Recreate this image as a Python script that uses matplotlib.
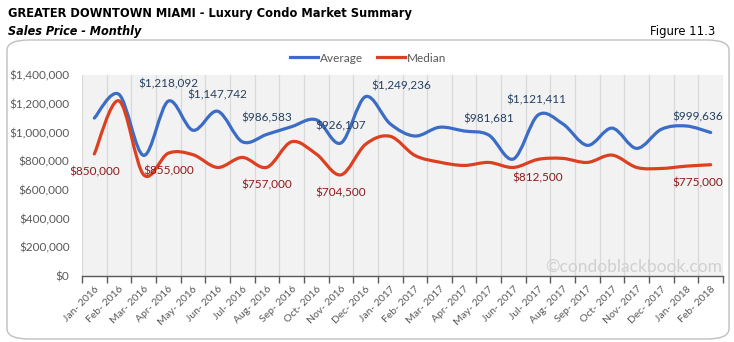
import matplotlib
matplotlib.use('Agg')
import numpy as np
import matplotlib.pyplot as plt
from matplotlib.path import Path
from matplotlib.patches import PathPatch, FancyBboxPatch
from matplotlib.lines import Line2D
from matplotlib import font_manager

# ---------------- data ----------------
months = ['Jan- 2016', 'Feb- 2016', 'Mar- 2016', 'Apr- 2016', 'May- 2016', 'Jun- 2016',
          'Jul- 2016', 'Aug- 2016', 'Sep- 2016', 'Oct- 2016', 'Nov- 2016', 'Dec- 2016',
          'Jan- 2017', 'Feb- 2017', 'Mar- 2017', 'Apr- 2017', 'May- 2017', 'Jun- 2017',
          'Jul- 2017', 'Aug- 2017', 'Sep- 2017', 'Oct- 2017', 'Nov- 2017', 'Dec- 2017',
          'Jan- 2018', 'Feb- 2018']
average = [1100000, 1265000, 840000, 1218092, 1015000, 1147742, 935000, 986583,
           1040000, 1088000, 926107, 1249236, 1060000, 975000, 1036000, 1010000,
           981681, 815000, 1121411, 1060000, 910000, 1030000, 889000, 1022000,
           1045000, 999636]
median = [850000, 1220000, 705000, 855000, 845000, 756000, 826000, 757000,
          935000, 850000, 704500, 917000, 973000, 840000, 793000, 770000,
          791000, 756000, 812500, 819000, 791000, 842000, 756000, 749000,
          765000, 775000]
y_ticks = [0, 200000, 400000, 600000, 800000, 1000000, 1200000, 1400000]

# labelled points: (index, dx px, dy px, ha)
avg_labels = [(3, 0, 17, 'center'), (5, 0, 16, 'center'), (7, 0, 16, 'center'),
              (10, 0, 17, 'center'), (11, 6, 11, 'left'), (16, 0, 16, 'center'),
              (18, -2, 15, 'center'), (25, 12, 16, 'right')]
med_labels = [(0, 0, -18, 'center'), (3, 0, -18, 'center'), (7, 0, -18, 'center'),
              (10, 0, -18, 'center'), (18, 0, -19, 'center'), (25, 12, -18, 'right')]

# ---------------- fonts ----------------
fl = font_manager.fontManager.ttflist
names = {f.name for f in fl}
if 'Liberation Sans Narrow' in names:
    narrow, narrow_stretch = 'Liberation Sans Narrow', 'normal'
elif any(f.name == 'DejaVu Sans' and f.stretch == 'condensed' for f in fl):
    narrow, narrow_stretch = 'DejaVu Sans', 'condensed'
else:
    narrow, narrow_stretch = 'Liberation Sans', 'normal'
body = 'Lato' if 'Lato' in names else 'DejaVu Sans'
plt.rcParams['font.family'] = [body, 'DejaVu Sans']

BLUE = '#3B6CC6'
RED = '#DD4020'
GRAY = '#595959'

fig = plt.figure(figsize=(7.34, 3.42), dpi=100)
W, H = 734, 342


def fx(px):
    return px / W


def fy(py):
    return 1 - py / H


# outer rounded frame
frame = FancyBboxPatch((fx(7), fy(339)), fx(722), (339 - 40) / H,
                       boxstyle='round,pad=0,rounding_size=0.03',
                       transform=fig.transFigure, facecolor='white',
                       edgecolor='#BFBFBF', linewidth=1.0, zorder=-10)
fig.patches.append(frame)

ax = fig.add_axes([fx(82), fy(276), fx(641), (276 - 75) / H])
ax.set_facecolor('#F2F2F2')
ax.set_zorder(1)

n = len(months)
xs = np.arange(n)


def smooth_patch(vals, color):
    pts = np.column_stack([xs, np.asarray(vals, dtype=float)])
    verts = [tuple(pts[0])]
    codes = [Path.MOVETO]
    for i in range(n - 1):
        p0 = pts[i - 1] if i > 0 else pts[i]
        p1 = pts[i]
        p2 = pts[i + 1]
        p3 = pts[i + 2] if i + 2 < n else pts[i + 1]
        c1 = p1 + (p2 - p0) / 6.0
        c2 = p2 - (p3 - p1) / 6.0
        verts += [tuple(c1), tuple(c2), tuple(p2)]
        codes += [Path.CURVE4] * 3
    patch = PathPatch(Path(verts, codes), facecolor='none', edgecolor=color,
                      linewidth=2.3, capstyle='round', joinstyle='round', zorder=3)
    ax.add_patch(patch)


smooth_patch(average, BLUE)
smooth_patch(median, RED)

ax.set_xlim(-0.5, n - 0.5)
ax.set_ylim(0, 1400000)

ax.set_xticks(xs)
ax.set_xticklabels(months, rotation=45, ha='right', va='top',
                   rotation_mode='anchor', fontsize=7.5, color=GRAY)
ax.set_xticks(np.arange(-0.5, n, 1.0), minor=True)
ax.tick_params(axis='x', which='major', length=0, pad=6)
ax.tick_params(axis='x', which='minor', length=5, color=GRAY, width=1)
ax.grid(True, which='minor', axis='x', color='#D9D9D9', linewidth=0.9)
ax.set_axisbelow(True)

ax.set_yticks(y_ticks)
ax.set_yticklabels(['${:,.0f}'.format(v) for v in y_ticks], fontsize=8.5, color=GRAY)
ax.tick_params(axis='y', length=0, pad=9)

for s in ['top', 'right', 'left']:
    ax.spines[s].set_visible(False)
ax.spines['bottom'].set_color(GRAY)
ax.spines['bottom'].set_linewidth(1.0)

# data labels
for i, dx, dy, ha in avg_labels:
    ax.annotate('${:,.0f}'.format(average[i]), (xs[i], average[i]),
                xytext=(dx, dy), textcoords='offset pixels', ha=ha, va='center',
                fontsize=8.5, color='#243F60', zorder=4)
for i, dx, dy, ha in med_labels:
    ax.annotate('${:,.0f}'.format(median[i]), (xs[i], median[i]),
                xytext=(dx, dy), textcoords='offset pixels', ha=ha, va='center',
                fontsize=8.5, color='#8B1A1A', zorder=4)

# watermark
ax.text(0.998, 0.045, '\u00a9condoblackbook.com', transform=ax.transAxes,
        ha='right', va='center', fontsize=12.5, color='#D0D0D0', zorder=2)

# legend
handles = [Line2D([], [], color=BLUE, linewidth=2.3),
           Line2D([], [], color=RED, linewidth=2.3)]
fig.legend(handles, ['Average', 'Median'], loc='center', bbox_to_anchor=(fx(368), fy(58)),
           ncol=2, frameon=False, fontsize=8.5, handlelength=2.4, handletextpad=0.1,
           columnspacing=1.2, labelcolor=GRAY)

# titles (font size fitted to the reference width)
renderer = fig.canvas.get_renderer()


def fit_text(x, y, s, width_px, size, ha='left', **kw):
    t = fig.text(x, y, s, ha=ha, va='center', fontsize=size, family=narrow,
                 fontstretch=narrow_stretch, color='black', **kw)
    w = t.get_window_extent(renderer).width
    t.set_fontsize(size * width_px / w)
    return t


fit_text(fx(8), fy(14), 'GREATER DOWNTOWN MIAMI - Luxury Condo Market Summary', 405, 11.5,
         fontweight='bold')
fit_text(fx(8), fy(31), 'Sales Price - Monthly', 133, 11,
         fontweight='bold', fontstyle='italic')
fit_text(fx(715), fy(31), 'Figure 11.3', 65, 11, ha='right')

fig.savefig('out.png', dpi=100)
